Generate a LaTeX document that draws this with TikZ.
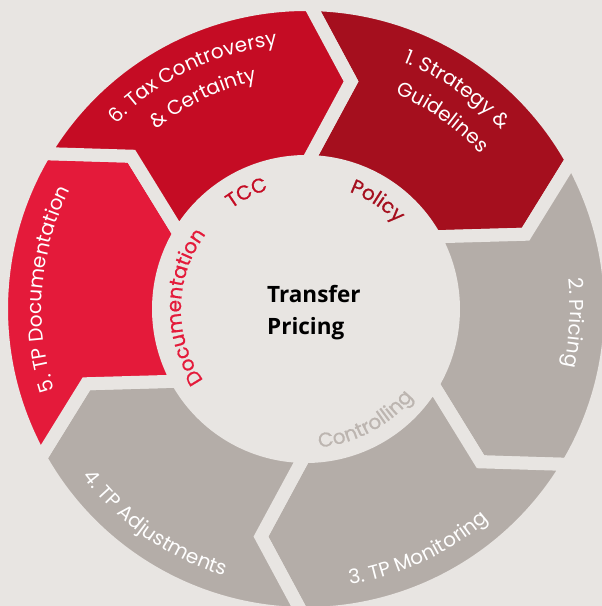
\documentclass[tikz,border=0pt]{standalone}
\usepackage{fontspec}
\usepackage{xcolor}
\usepackage{tikz}
\usetikzlibrary{decorations.text}
\newfontfamily\ringfont{Poppins}
\newfontfamily\innerfont[FakeBold=0.8]{Poppins}
\newfontfamily\titlefont{Open Sans}
\definecolor{bgc}{HTML}{E8E5E2}
\definecolor{segone}{HTML}{A50F1E}
\definecolor{segsix}{HTML}{C50C24}
\definecolor{segfive}{HTML}{E41A3A}
\definecolor{seggray}{HTML}{B4ADA8}
\definecolor{ctrlgray}{HTML}{BCB5B0}

\begin{document}
\begin{tikzpicture}[
  segment/.style={draw=bgc, line width=13pt},
  ringlabel/.style={decorate, decoration={text along path, text align=center, text color=white, text={|\ringfont\fontsize{20}{20}\selectfont|#1}}},
  innerlabel/.style 2 args={decorate, decoration={text along path, text align=center, text color=#1, text={|\innerfont\fontsize{20}{20}\selectfont|#2}}}
]
\tikzstyle{every node}+=[inner sep=0pt]
\useasboundingbox (-306pt,-297pt) rectangle (296pt,309pt);
\fill[bgc] (-306pt,-297pt) rectangle (296pt,309pt);
\filldraw[segment, fill=segone] (89.3:304.5pt) arc[start angle=89.3, end angle=29.3, radius=304.5pt] -- (18.8:232pt) -- (29.3:147.5pt) arc[start angle=29.3, end angle=89.3, radius=147.5pt] -- (78.8:232pt) -- cycle;
\filldraw[segment, fill=seggray] (29.3:304.5pt) arc[start angle=29.3, end angle=-30.7, radius=304.5pt] -- (-41.2:232pt) -- (-30.7:147.5pt) arc[start angle=-30.7, end angle=29.3, radius=147.5pt] -- (18.8:232pt) -- cycle;
\filldraw[segment, fill=seggray] (-30.7:304.5pt) arc[start angle=-30.7, end angle=-90.7, radius=304.5pt] -- (-101.2:232pt) -- (-90.7:147.5pt) arc[start angle=-90.7, end angle=-30.7, radius=147.5pt] -- (-41.2:232pt) -- cycle;
\filldraw[segment, fill=seggray] (-90.7:304.5pt) arc[start angle=-90.7, end angle=-150.7, radius=304.5pt] -- (-161.2:232pt) -- (-150.7:147.5pt) arc[start angle=-150.7, end angle=-90.7, radius=147.5pt] -- (-101.2:232pt) -- cycle;
\filldraw[segment, fill=segfive] (209.3:304.5pt) arc[start angle=209.3, end angle=149.3, radius=304.5pt] -- (138.8:232pt) -- (149.3:147.5pt) arc[start angle=149.3, end angle=209.3, radius=147.5pt] -- (198.8:232pt) -- cycle;
\filldraw[segment, fill=segsix] (149.3:304.5pt) arc[start angle=149.3, end angle=89.3, radius=304.5pt] -- (78.8:232pt) -- (89.3:147.5pt) arc[start angle=89.3, end angle=149.3, radius=147.5pt] -- (138.8:232pt) -- cycle;
\path[ringlabel={1. Strategy {\&}}] (115.5:265pt) arc[start angle=115.5, end angle=-4.5, radius=265pt];
\path[ringlabel={Guidelines}] (114.5:233pt) arc[start angle=114.5, end angle=-5.5, radius=233pt];
\path[ringlabel={2. Pricing}] (57:264pt) arc[start angle=57, end angle=-63, radius=264pt];
\path[ringlabel={3. TP Monitoring}] (-125:279pt) arc[start angle=-125, end angle=-5, radius=279pt];
\path[ringlabel={4. TP Adjustments}] (175:279pt) arc[start angle=175, end angle=295, radius=279pt];
\path[ringlabel={5. TP Documentation}] (235.5:264pt) arc[start angle=235.5, end angle=115.5, radius=264pt];
\path[ringlabel={6. Tax Controversy}] (176:265pt) arc[start angle=176, end angle=56, radius=265pt];
\path[ringlabel={{\&} Certainty}] (176:233pt) arc[start angle=176, end angle=56, radius=233pt];
\path[innerlabel={segone}{Policy}] (116.5:125pt) arc[start angle=116.5, end angle=-3.5, radius=125pt];
\path[innerlabel={segsix}{TCC}] (177:125pt) arc[start angle=177, end angle=57, radius=125pt];
\path[innerlabel={segfive}{Documentation}] (239:125pt) arc[start angle=239, end angle=119, radius=125pt];
\path[innerlabel={ctrlgray}{Controlling}] (-122:139pt) arc[start angle=-122, end angle=-2, radius=139pt];
\node[anchor=base west, font=\titlefont\bfseries\fontsize{22.5}{22.5}\selectfont] (tptop) at (-39pt,7pt) {Transfer};
\node[anchor=base west, font=\titlefont\bfseries\fontsize{22.5}{22.5}\selectfont] (tpbot) at (-39pt,-25.5pt) {Pricing};
\end{tikzpicture}
\end{document}
